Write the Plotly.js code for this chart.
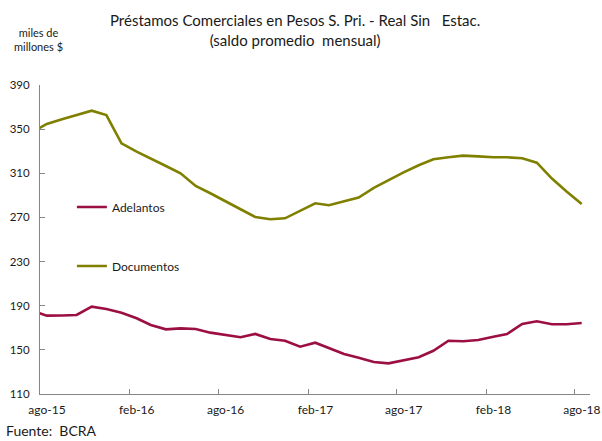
<!DOCTYPE html>
<html>
<head>
<meta charset="utf-8">
<script src="https://cdn.plot.ly/plotly-3.0.1.min.js"></script>
<style>
  html, body { margin: 0; padding: 0; background: #ffffff; }
  #chart { width: 602px; height: 441px; }
</style>
</head>
<body>
<div id="chart"></div>
<script>
// Monthly observations (mid-month); the jul-15 point lies left of the visible range
const months = [
  "2015-07-15","2015-08-15","2015-09-15","2015-10-15","2015-11-15","2015-12-15",
  "2016-01-15","2016-02-15","2016-03-15","2016-04-15","2016-05-15","2016-06-15",
  "2016-07-15","2016-08-15","2016-09-15","2016-10-15","2016-11-15","2016-12-15",
  "2017-01-15","2017-02-15","2017-03-15","2017-04-15","2017-05-15","2017-06-15",
  "2017-07-15","2017-08-15","2017-09-15","2017-10-15","2017-11-15","2017-12-15",
  "2018-01-15","2018-02-15","2018-03-15","2018-04-15","2018-05-15","2018-06-15",
  "2018-07-15","2018-08-15"
];

const adelantos = [
  185.5, 181.0, 181.1, 181.6, 189.1, 187.0,
  183.7, 178.6, 172.5, 168.6, 169.5, 168.9,
  165.6, 163.5, 161.4, 164.4, 159.8, 158.3,
  152.9, 156.5, 152.0, 146.3, 142.9, 139.0,
  137.8, 140.8, 143.3, 149.2, 158.3, 157.8,
  158.9, 161.9, 164.4, 173.4, 175.9, 173.2,
  173.2, 174.3
];

const documentos = [
  347.0, 354.7, 359.0, 363.0, 366.7, 362.8,
  337.2, 329.6, 323.6, 316.6, 310.0, 298.5,
  291.9, 284.3, 277.4, 270.4, 268.3, 269.2,
  276.1, 282.8, 281.0, 284.6, 288.0, 296.7,
  304.0, 310.8, 317.3, 322.7, 324.5, 326.0,
  325.3, 324.5, 324.5, 323.6, 319.6, 305.2,
  293.5, 282.2
];

const seriesNames = ["Adelantos", "Documentos"];

const xTickVals = ["2015-08-01","2016-02-01","2016-08-01","2017-02-01","2017-08-01","2018-02-01","2018-08-01"];
const xTickText = ["ago-15","feb-16","ago-16","feb-17","ago-17","feb-18","ago-18"];
const xRange = ["2015-08-01","2018-09-01"];

const yTickVals = [110, 150, 190, 230, 270, 310, 350, 390];
const yRange = [110, 390];

const FONT = "Lato, 'Open Sans', 'DejaVu Sans', sans-serif";
const AXIS_COLOR = "#868686";

const traces = [
  {
    x: months, y: adelantos, name: seriesNames[0], type: "scatter", mode: "lines",
    line: { color: "#9c0f43", width: 2.6 }, legend: "legend", hoverinfo: "skip"
  },
  {
    x: months, y: documentos, name: seriesNames[1], type: "scatter", mode: "lines",
    line: { color: "#808000", width: 2.6 }, legend: "legend2", hoverinfo: "skip"
  }
];

const layout = {
  width: 602, height: 441,
  paper_bgcolor: "#ffffff", plot_bgcolor: "#ffffff",
  margin: { l: 40, r: 12, t: 85, b: 47 },
  font: { family: FONT, color: "#1a1a1a", size: 11 },
  showlegend: true,
  legend: {
    x: 0.058, xanchor: "left", y: 0.605, yanchor: "middle",
    bgcolor: "rgba(0,0,0,0)", borderwidth: 0,
    font: { family: FONT, size: 12, color: "#1a1a1a" },
    itemwidth: 30, tracegroupgap: 0
  },
  legend2: {
    x: 0.058, xanchor: "left", y: 0.414, yanchor: "middle",
    bgcolor: "rgba(0,0,0,0)", borderwidth: 0,
    font: { family: FONT, size: 12, color: "#1a1a1a" },
    itemwidth: 30, tracegroupgap: 0
  },
  xaxis: {
    type: "date", range: xRange,
    tickmode: "array", tickvals: xTickVals, ticktext: xTickText,
    ticks: "inside", ticklen: 5, tickcolor: AXIS_COLOR, tickwidth: 1,
    ticklabelshift: 7, ticklabelstandoff: 5,
    showline: true, linecolor: AXIS_COLOR, linewidth: 1,
    showgrid: false, zeroline: false,
    tickfont: { family: FONT, size: 12, color: "#1a1a1a" }
  },
  yaxis: {
    range: yRange,
    tickmode: "array", tickvals: yTickVals,
    ticks: "inside", ticklen: 5, tickcolor: AXIS_COLOR, tickwidth: 1,
    showline: true, linecolor: AXIS_COLOR, linewidth: 1,
    showgrid: false, zeroline: false,
    ticklabelstandoff: 7,
    tickfont: { family: FONT, size: 11.5, color: "#1a1a1a" }
  },
  annotations: [
    {
      text: "Préstamos Comerciales en Pesos S. Pri. - Real Sin&nbsp;&nbsp; Estac.<br>(saldo promedio&nbsp; mensual)",
      xref: "paper", yref: "paper",
      x: (295 - 40) / 550, y: (394 - 9) / 309, xanchor: "center", yanchor: "top",
      showarrow: false, align: "center",
      font: { family: FONT, size: 15, color: "#1a1a1a" }
    },
    {
      text: "miles de<br>millones $", xref: "paper", yref: "paper",
      x: -0.003, y: 1 + 30 / 309, xanchor: "center", yanchor: "bottom",
      showarrow: false, align: "center",
      font: { family: FONT, size: 11, color: "#1a1a1a" }
    },
    {
      text: "Fuente:&nbsp; BCRA", xref: "paper", yref: "paper",
      x: (4 - 40) / 550, y: (394 - 430) / 309, xanchor: "left", yanchor: "middle",
      showarrow: false,
      font: { family: FONT, size: 14, color: "#1a1a1a" }
    }
  ]
};

Plotly.newPlot("chart", traces, layout, { staticPlot: true, displayModeBar: false });
</script>
</body>
</html>
